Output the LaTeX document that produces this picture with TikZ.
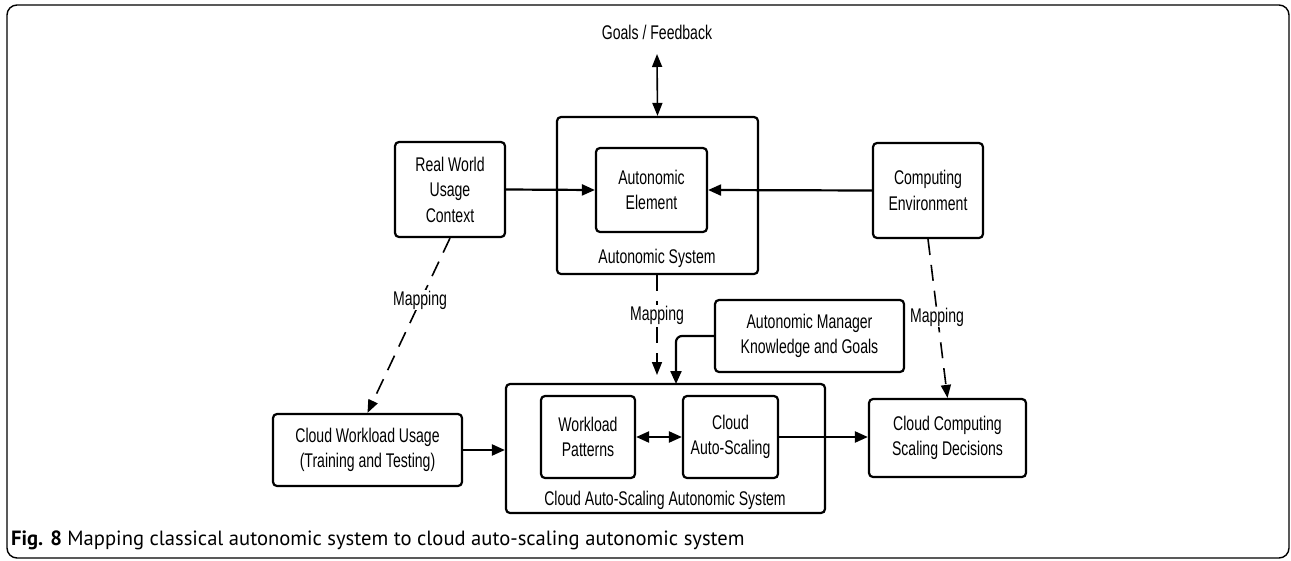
\documentclass[tikz,border=0pt]{standalone}
\usepackage{fontspec}
\setmainfont{Liberation Sans}
\newfontfamily\diagfont[FakeStretch=0.71]{Liberation Sans}
\newfontfamily\capfont{PT Sans}
\usetikzlibrary{arrows.meta}
\begin{document}
\begin{tikzpicture}[x=1pt,y=-1pt,
  box/.style={draw, line width=2.2pt, rounded corners=4pt, align=center, inner sep=0pt,
    font=\diagfont\fontsize{19.8}{25.5}\selectfont},
  lbl/.style={font=\diagfont\fontsize{19.8}{25.5}\selectfont, inner sep=1pt},
  conn/.style={line width=2.2pt, -{Triangle[length=13pt,width=11pt]}},
  map/.style={line width=1.6pt, dash pattern=on 16pt off 10pt, -{Triangle[length=13pt,width=10pt]}},
]
\useasboundingbox (0,0) rectangle (1291,560);
\draw[line width=1.4pt, rounded corners=10pt] (7,5) rectangle (1289,558);

% top row
\node[box, minimum width=110pt, minimum height=95pt] (rwuc) at (450,189.5) {Real World\\Usage\\Context};
\node[box, minimum width=201pt, minimum height=157pt] (as) at (657.5,195.5) {};
\node[box, minimum width=111pt, minimum height=84pt] (ae) at (651.5,190) {Autonomic\\Element};
\node[lbl] (aslbl) at (657,258) {Autonomic System};
\node[box, minimum width=110pt, minimum height=95pt] (ce) at (928,190.5) {Computing\\Environment};
\node[lbl] (goals) at (657,32) {Goals / Feedback};

% middle
\node[box, minimum width=189pt, minimum height=72pt] (amkg) at (809.5,336) {Autonomic Manager\\Knowledge and Goals};

% bottom row
\node[box, minimum width=189pt, minimum height=72pt] (cwu) at (367.5,450) {Cloud Workload Usage\\(Training and Testing)};
\node[box, minimum width=319pt, minimum height=129pt] (casas) at (665.5,448.5) {};
\node[box, minimum width=94pt, minimum height=82pt] (wp) at (588,437) {Workload\\Patterns};
\node[box, minimum width=95pt, minimum height=82pt] (cas) at (730.5,437) {Cloud\\Auto-Scaling};
\node[lbl] (caslbl) at (665,500) {Cloud Auto-Scaling Autonomic System};
\node[box, minimum width=157pt, minimum height=78pt] (ccsd) at (947.5,438) {Cloud Computing\\Scaling Decisions};

% connectors
\draw[line width=1.6pt, {Triangle[length=13pt,width=10pt]}-{Triangle[length=13pt,width=10pt]}]
  ([yshift=-22pt]goals.center) -- (as.north);
\draw[conn] (rwuc.east) -- (ae.west);
\draw[conn] (ce.west) -- (ae.east);
\draw[conn] (cwu.east) -- (cwu.east -| casas.west);
\draw[line width=2.2pt, {Triangle[length=13pt,width=11pt]}-{Triangle[length=13pt,width=11pt]}] (wp.east) -- (cas.west);
\draw[conn] (cas.east) -- (cas.east -| ccsd.west);
\coordinate (amin) at (676,384);
\draw[conn, rounded corners=6pt] (amkg.west) -| (amin);

% mapping
\draw[map] (rwuc.south) -- (cwu.north);
\node[lbl, fill=white] (m1) at (420,300) {Mapping};
\coordinate (mmid) at (657,375);
\draw[map] (as.south -| mmid) -- (mmid);
\node[lbl, fill=white] (m2) at (657,315) {Mapping};
\draw[map] (ce.south) -- (ccsd.north);
\node[lbl, fill=white] (m3) at (937,317) {Mapping};

% caption
\node[anchor=base west, inner sep=0pt, font=\capfont\fontsize{20.6}{24}\selectfont] (cap) at (11,545)
  {\textbf{Fig. 8} Mapping classical autonomic system to cloud auto-scaling autonomic system};
\end{tikzpicture}
\end{document}
